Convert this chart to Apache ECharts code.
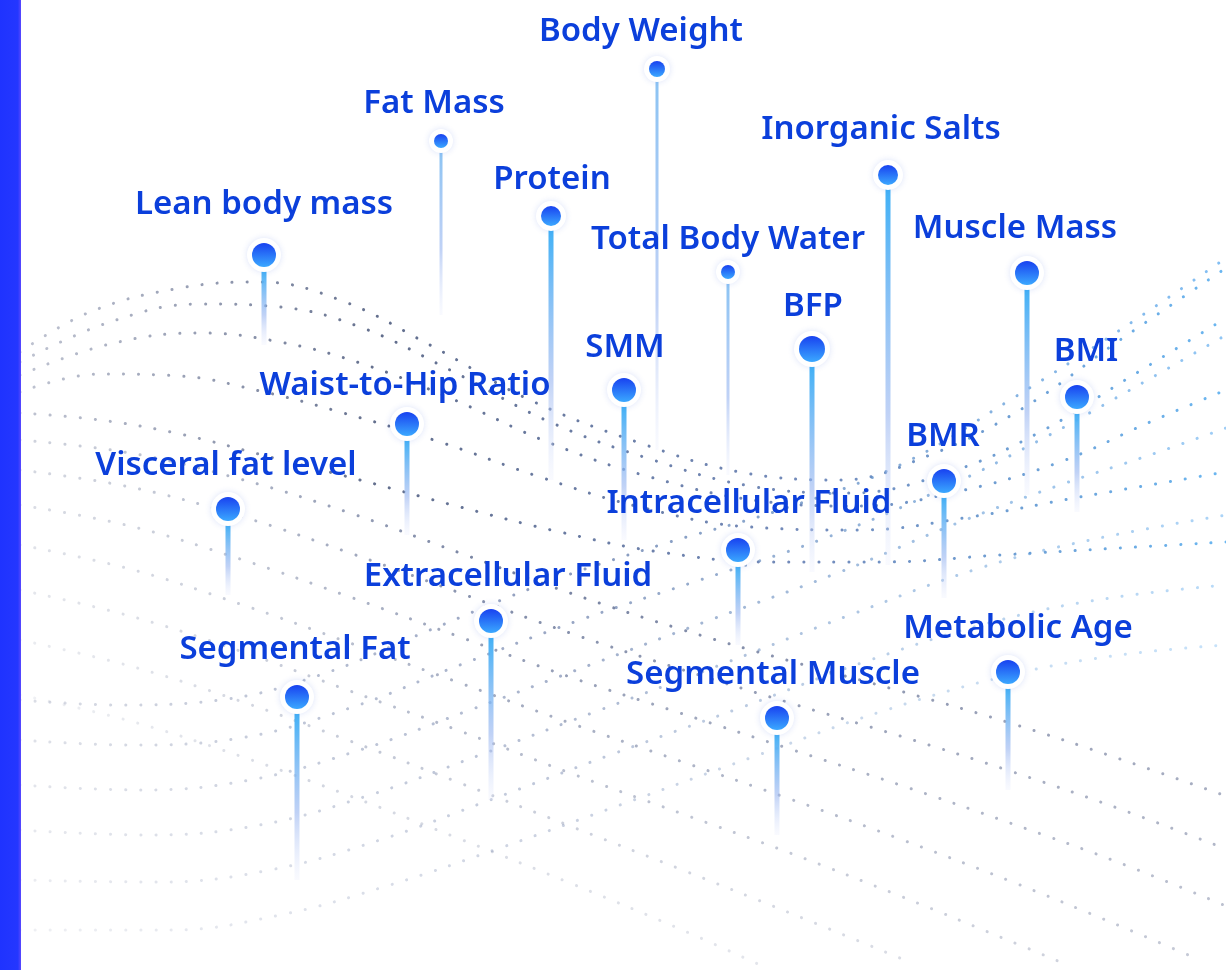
<!DOCTYPE html>
<html>
<head>
<meta charset="utf-8">
<title>Body composition indicators</title>
<style>
  html, body { margin: 0; padding: 0; background: #fff; }
  #main { width: 1226px; height: 970px; }
</style>
<script src="https://cdn.jsdelivr.net/npm/echarts/dist/echarts.min.js"></script>
</head>
<body>
<div id="main"></div>
<script>
// pins: name, head position, stem bottom
var names = ['Body Weight', 'Fat Mass', 'Protein', 'Lean body mass', 'Inorganic Salts', 'Total Body Water',
  'Muscle Mass', 'BFP', 'SMM', 'BMI', 'Waist-to-Hip Ratio', 'BMR', 'Visceral fat level',
  'Intracellular Fluid', 'Extracellular Fluid', 'Segmental Fat', 'Metabolic Age', 'Segmental Muscle']
var pinX = [657, 441, 551, 264, 888, 728, 1027, 812, 624, 1077, 407, 944, 228, 738, 491, 297, 1008, 777]
var pinY = [69, 141, 216, 255, 175, 272, 273, 349, 390, 397, 424, 481, 509, 550, 621, 697, 672, 718]
var stemEnd = [450, 315, 480, 345, 565, 475, 495, 572, 540, 512, 535, 598, 595, 645, 800, 880, 790, 835]
var labelX = [641, 434, 552, 264, 881, 728, 1015, 813, 625, 1086, 405, 943, 226, 749, 508, 295, 1018, 773]
var labelY = [32, 104, 180, 205, 130, 240, 229, 307, 348, 352, 386, 437, 466, 504, 577, 650, 629, 675]
var pinR = [8, 7, 10, 12, 10, 7, 12, 13, 12, 12, 12, 12, 12, 12, 12, 12, 12, 12]

// dotted mesh lines of the wave surface
var waveUpper = [
  [[20, 352], [90, 312], [180, 288], [260, 282], [340, 300], [430, 345], [530, 400], [640, 443], [740, 472], [840, 480], [930, 455], [1020, 410], [1120, 340], [1226, 268]],
  [[20, 362], [110, 322], [200, 304], [280, 307], [360, 327], [450, 370], [550, 422], [650, 459], [750, 486], [850, 493], [950, 472], [1040, 432], [1130, 377], [1226, 318]],
  [[20, 375], [110, 344], [200, 333], [280, 342], [360, 363], [450, 398], [550, 443], [650, 477], [760, 501], [860, 506], [960, 491], [1060, 462], [1150, 422], [1226, 390]],
  [[20, 392], [100, 374], [180, 376], [260, 391], [340, 412], [440, 442], [540, 477], [640, 507], [750, 527], [860, 530], [970, 517], [1080, 497], [1226, 472]],
  [[20, 413], [100, 420], [180, 434], [270, 457], [360, 480], [460, 507], [560, 532], [660, 552], [770, 562], [880, 562], [1000, 555], [1120, 548], [1226, 542]]
]
var waveLower = [
  [[20, 440], [130, 453], [240, 479], [350, 513], [460, 553], [570, 593], [680, 629], [790, 661], [900, 691], [1010, 723], [1120, 759], [1226, 796]],
  [[20, 470], [130, 487], [240, 516], [350, 553], [460, 593], [570, 633], [680, 669], [790, 703], [900, 736], [1010, 771], [1120, 809], [1226, 849]],
  [[20, 505], [130, 526], [240, 559], [350, 597], [460, 637], [570, 677], [680, 713], [790, 749], [900, 785], [1010, 823], [1120, 863], [1226, 906]],
  [[20, 545], [130, 569], [240, 604], [350, 643], [460, 683], [570, 723], [680, 761], [790, 799], [900, 839], [1010, 881], [1120, 926], [1200, 960]],
  [[20, 590], [130, 616], [240, 651], [350, 691], [460, 731], [570, 773], [680, 813], [790, 853], [900, 896], [1010, 941], [1070, 966]],
  [[20, 640], [130, 666], [240, 701], [350, 741], [460, 783], [570, 826], [680, 869], [790, 913], [900, 958]],
  [[20, 695], [130, 721], [240, 756], [350, 796], [460, 839], [570, 883], [680, 929], [760, 965]]
]
var waveCross = [
  [[20, 700], [120, 705], [220, 700], [320, 675], [430, 630], [540, 585], [660, 545], [780, 510], [900, 465], [1010, 400], [1120, 330], [1226, 258]],
  [[20, 740], [130, 745], [240, 738], [350, 708], [460, 665], [580, 620], [700, 580], [820, 540], [940, 490], [1040, 440], [1130, 390], [1226, 335]],
  [[20, 785], [140, 790], [250, 780], [360, 750], [470, 710], [590, 665], [710, 620], [840, 572], [960, 522], [1060, 485], [1150, 455], [1226, 428]],
  [[20, 830], [150, 835], [260, 825], [370, 795], [480, 755], [600, 710], [720, 665], [850, 615], [980, 568], [1090, 540], [1226, 515]],
  [[20, 880], [160, 882], [270, 870], [380, 840], [490, 800], [610, 755], [740, 708], [870, 660], [1000, 620], [1110, 598], [1226, 585]],
  [[20, 930], [170, 930], [280, 915], [390, 885], [500, 848], [620, 805], [750, 758], [880, 712], [1010, 675], [1120, 655], [1226, 645]]
]

var chart = echarts.init(document.getElementById('main'))

function grad(stops) {
  return new echarts.graphic.LinearGradient(0, 0, 1, 0, stops)
}

function waveSeries(lines, colorFn) {
  return lines.map(function (pts, k) {
    return {
      type: 'line',
      data: pts,
      smooth: 0.4,
      symbol: 'none',
      silent: true,
      z: 1,
      lineStyle: {
        width: 3,
        type: [0.1, 15],
        cap: 'round',
        color: colorFn(k, lines.length)
      }
    }
  })
}

var series = []
series = series.concat(waveSeries(waveUpper, function () {
  return grad([
    { offset: 0, color: 'rgba(130,138,165,0.5)' },
    { offset: 0.3, color: 'rgba(70,84,120,0.85)' },
    { offset: 0.65, color: 'rgba(80,110,170,0.8)' },
    { offset: 1, color: 'rgba(90,175,240,0.9)' }
  ])
}))
series = series.concat(waveSeries(waveLower, function (k) {
  var a = 0.8 - k * 0.09
  return grad([
    { offset: 0, color: 'rgba(150,158,180,' + (a * 0.55) + ')' },
    { offset: 0.4, color: 'rgba(80,95,135,' + a + ')' },
    { offset: 1, color: 'rgba(120,130,160,' + (a * 0.8) + ')' }
  ])
}))
series = series.concat(waveSeries(waveCross, function (k) {
  var a = 0.75 - k * 0.08
  return grad([
    { offset: 0, color: 'rgba(170,176,195,' + (a * 0.55) + ')' },
    { offset: 0.45, color: 'rgba(100,120,165,' + a + ')' },
    { offset: 1, color: 'rgba(90,170,240,' + a + ')' }
  ])
}))

var pinData = names.map(function (n, i) {
  return [pinX[i], pinY[i], stemEnd[i], labelX[i], labelY[i], pinR[i]]
})

series.push({
  type: 'custom',
  data: pinData,
  z: 10,
  silent: true,
  renderItem: function (params, api) {
    var i = params.dataIndex
    var c = api.coord([api.value(0), api.value(1)])
    var e = api.coord([api.value(0), api.value(2)])
    var l = api.coord([api.value(3), api.value(4)])
    var r = api.value(5)
    var w = r >= 10 ? 5 : 3
    var top = c[1] + r + 3
    return {
      type: 'group',
      children: [{
        type: 'rect',
        shape: { x: c[0] - w / 2, y: top, width: w, height: e[1] - top },
        style: {
          fill: new echarts.graphic.LinearGradient(0, 0, 0, 1, [
            { offset: 0, color: r >= 10 ? '#3fb0f6' : 'rgba(110,180,240,0.8)' },
            { offset: 0.6, color: 'rgba(150,180,240,0.6)' },
            { offset: 1, color: 'rgba(225,230,252,0.2)' }
          ])
        }
      }, {
        type: 'circle',
        shape: { cx: c[0], cy: c[1], r: r + 5 },
        style: { fill: '#fff', shadowBlur: 6, shadowColor: 'rgba(60,100,220,0.18)' }
      }, {
        type: 'circle',
        shape: { cx: c[0], cy: c[1], r: r },
        style: {
          fill: new echarts.graphic.LinearGradient(0, 0, 0, 1, [
            { offset: 0, color: '#1842f0' },
            { offset: 1, color: '#3ba8ff' }
          ])
        }
      }, {
        type: 'text',
        x: l[0],
        y: l[1],
        style: {
          text: names[i],
          fill: '#0b3fdb',
          font: '600 33px "Noto Sans", sans-serif',
          align: 'center',
          verticalAlign: 'middle'
        }
      }]
    }
  }
})

chart.setOption({
  backgroundColor: '#fff',
  animation: false,
  grid: { left: 0, right: 0, top: 0, bottom: 0 },
  xAxis: { type: 'value', min: 0, max: 1226, show: false },
  yAxis: { type: 'value', min: 0, max: 970, inverse: true, show: false },
  graphic: [{
    type: 'rect',
    left: 0,
    top: 0,
    z: 100,
    shape: { width: 21, height: 970 },
    style: {
      fill: new echarts.graphic.LinearGradient(0, 0, 1, 0, [
        { offset: 0, color: '#1f33ff' },
        { offset: 0.85, color: '#2437ff' },
        { offset: 1, color: '#5a48ff' }
      ])
    }
  }],
  series: series
})
</script>
</body>
</html>
